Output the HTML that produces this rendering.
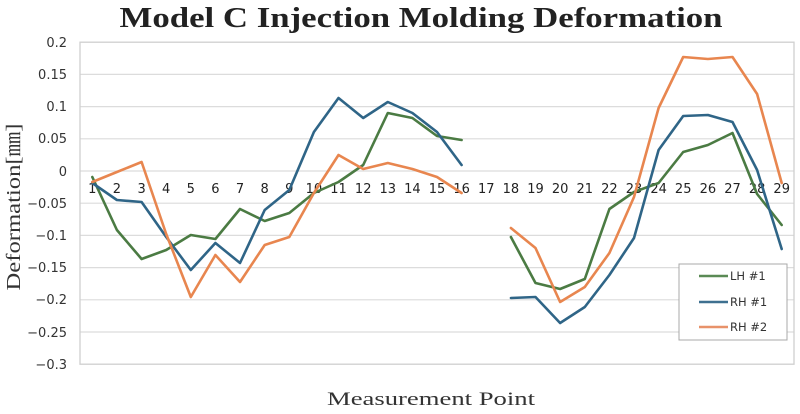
<!DOCTYPE html>
<html><head><meta charset="utf-8"><style>
html,body{margin:0;padding:0;background:#fff;}
svg{display:block;}
</style></head><body>
<svg width="800" height="414" viewBox="0 0 800 414" xmlns="http://www.w3.org/2000/svg">
<rect width="800" height="414" fill="#fff"/>
<text x="421" y="27" text-anchor="middle" font-family="Liberation Serif, serif" font-weight="bold" font-size="29" fill="#222" textLength="603" lengthAdjust="spacingAndGlyphs">Model C Injection Molding Deformation</text>
<g stroke="#dcdcdc" stroke-width="1.2">
<line x1="80" y1="74.4" x2="794" y2="74.4"/>
<line x1="80" y1="106.6" x2="794" y2="106.6"/>
<line x1="80" y1="138.8" x2="794" y2="138.8"/>
<line x1="80" y1="171" x2="794" y2="171"/>
<line x1="80" y1="203.2" x2="794" y2="203.2"/>
<line x1="80" y1="235.4" x2="794" y2="235.4"/>
<line x1="80" y1="267.6" x2="794" y2="267.6"/>
<line x1="80" y1="299.8" x2="794" y2="299.8"/>
<line x1="80" y1="332" x2="794" y2="332"/>
</g>
<rect x="80" y="42.2" width="714" height="322" fill="none" stroke="#cfcfcf" stroke-width="1.3"/>
<g font-family="DejaVu Sans, sans-serif" font-size="13" fill="#333" text-anchor="end">
<text x="67" y="47">0.2</text>
<text x="67" y="79">0.15</text>
<text x="67" y="111">0.1</text>
<text x="67" y="143">0.05</text>
<text x="67" y="176">0</text>
<text x="67" y="208">−0.05</text>
<text x="67" y="240">−0.1</text>
<text x="67" y="272">−0.15</text>
<text x="67" y="304">−0.2</text>
<text x="67" y="337">−0.25</text>
<text x="67" y="369">−0.3</text>
</g>
<g font-family="DejaVu Sans, sans-serif" font-size="13" fill="#222" text-anchor="middle">
<text x="92.3" y="193">1</text><text x="116.9" y="193">2</text><text x="141.6" y="193">3</text><text x="166.2" y="193">4</text><text x="190.8" y="193">5</text><text x="215.4" y="193">6</text><text x="240" y="193">7</text><text x="264.7" y="193">8</text><text x="289.3" y="193">9</text><text x="313.9" y="193">10</text><text x="338.5" y="193">11</text><text x="363.2" y="193">12</text><text x="387.8" y="193">13</text><text x="412.4" y="193">14</text><text x="437" y="193">15</text><text x="461.6" y="193">16</text><text x="486.3" y="193">17</text><text x="510.9" y="193">18</text><text x="535.5" y="193">19</text><text x="560.1" y="193">20</text><text x="584.8" y="193">21</text><text x="609.4" y="193">22</text><text x="634" y="193">23</text><text x="658.6" y="193">24</text><text x="683.2" y="193">25</text><text x="707.9" y="193">26</text><text x="732.5" y="193">27</text><text x="757.1" y="193">28</text><text x="781.7" y="193">29</text>
</g>
<g fill="none" stroke-width="2.6" stroke-linejoin="round" stroke-linecap="round">
<polyline stroke="#4b7b43" points="92.3,177 116.9,230 141.6,259 166.2,250 190.8,235 215.4,239 240,209 264.7,221 289.3,213 313.9,193 338.5,182 363.2,165 387.8,113 412.4,118 437,136 461.6,140"/>
<polyline stroke="#4b7b43" points="510.9,237 535.5,283 560.1,289 584.8,279 609.4,209 634,192 658.6,183 683.2,152 707.9,145 732.5,133 757.1,194 781.7,225"/>
<polyline stroke="#2f6587" points="92.3,183 116.9,200 141.6,202 166.2,237 190.8,270 215.4,243 240,263 264.7,210 289.3,190 313.9,132 338.5,98 363.2,118 387.8,102 412.4,113 437,132 461.6,165"/>
<polyline stroke="#2f6587" points="510.9,298 535.5,297 560.1,323 584.8,307 609.4,275 634,238 658.6,150 683.2,116 707.9,115 732.5,122 757.1,170 781.7,249"/>
<polyline stroke="#e8864f" points="92.3,182 116.9,172 141.6,162 166.2,234 190.8,297 215.4,255 240,282 264.7,245 289.3,237 313.9,193 338.5,155 363.2,169 387.8,163 412.4,169 437,177 461.6,193"/>
<polyline stroke="#e8864f" points="510.9,228 535.5,248 560.1,302 584.8,287 609.4,253 634,197 658.6,108 683.2,57 707.9,59 732.5,57 757.1,94 781.7,183"/>
</g>
<rect x="679" y="264" width="108" height="76" fill="#fff" stroke="#a8a8a8" stroke-width="1"/>
<g stroke-width="2.4">
<line x1="699" y1="276" x2="728" y2="276" stroke="#5a8a55"/>
<line x1="699" y1="302" x2="728" y2="302" stroke="#3e7090"/>
<line x1="699" y1="327" x2="728" y2="327" stroke="#e8926a"/>
</g>
<g font-family="DejaVu Sans, sans-serif" font-size="11.5" fill="#333">
<text x="730" y="280">LH #1</text>
<text x="730" y="306">RH #1</text>
<text x="730" y="331">RH #2</text>
</g>
<text x="431" y="405" text-anchor="middle" font-family="Liberation Serif, serif" font-size="19" fill="#333" textLength="208" lengthAdjust="spacingAndGlyphs">Measurement Point</text>
<text transform="translate(20,207) rotate(-90)" text-anchor="middle" font-family="Liberation Serif, 'Noto Serif CJK SC', serif" font-size="20" fill="#333" textLength="167" lengthAdjust="spacingAndGlyphs">Deformation[㎜]</text>
</svg>
</body></html>
